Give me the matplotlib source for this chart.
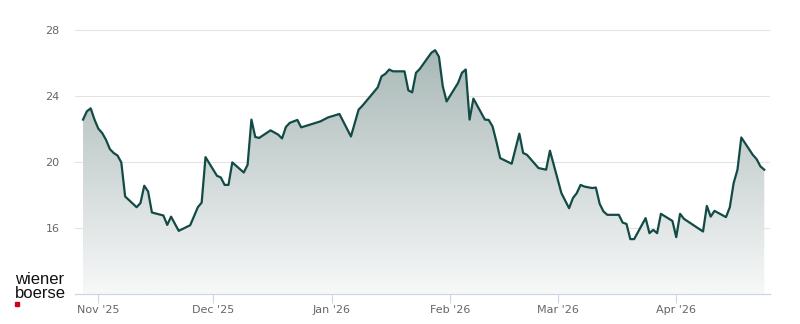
import matplotlib
matplotlib.use("Agg")
import matplotlib.pyplot as plt
import matplotlib.dates as mdates
import numpy as np
import pandas as pd
from matplotlib.colors import LinearSegmentedColormap

# price series (days counted from 1 Nov 2025)
START = pd.Timestamp("2025-11-01")
day_offsets = [
    -4, -3, -2, -1, 0, 1, 2, 3, 4, 5, 6, 7, 10, 11, 12, 13, 14, 17, 18, 19,
    21, 24, 26, 27, 28, 31, 32, 33, 34, 35, 38, 39, 40, 41, 42, 45, 47, 48, 49, 50,
    52, 53, 58, 60, 63, 66, 68, 69, 73, 74, 75, 76, 77, 80, 81, 82, 83, 84, 87, 88,
    89, 90, 91, 94, 95, 96, 97, 98, 101, 102, 103, 104, 105, 108, 110, 111, 112, 115, 117, 118,
    121, 123, 124, 125, 126, 127, 129, 130, 131, 132, 133, 136, 137, 138, 139, 140, 143, 144, 145, 146,
    147, 150, 151, 152, 153, 158, 159, 160, 161, 164, 165, 166, 167, 168, 171, 172, 173, 174,
]
prices = [
    22.55, 23.05, 23.23, 22.55, 22.00, 21.74, 21.33, 20.77, 20.53, 20.38, 19.96, 17.90, 17.25, 17.50, 18.55, 18.20, 16.93, 16.75, 16.18, 16.68,
    15.82, 16.16, 17.25, 17.53, 20.28, 19.15, 19.05, 18.60, 18.60, 19.96, 19.35, 19.82, 22.55, 21.50, 21.44, 21.90, 21.64, 21.41, 22.10, 22.35,
    22.53, 22.08, 22.44, 22.68, 22.89, 21.53, 23.15, 23.39, 24.50, 25.17, 25.32, 25.58, 25.47, 25.47, 24.32, 24.20, 25.38, 25.62, 26.59, 26.75,
    26.35, 24.56, 23.65, 24.77, 25.38, 25.58, 22.55, 23.82, 22.55, 22.53, 22.14, 21.23, 20.22, 19.88, 21.70, 20.53, 20.42, 19.62, 19.52, 20.67,
    18.10, 17.19, 17.80, 18.10, 18.60, 18.50, 18.41, 18.44, 17.45, 16.99, 16.79, 16.79, 16.32, 16.24, 15.32, 15.32, 16.59, 15.68, 15.88, 15.68,
    16.85, 16.42, 15.44, 16.85, 16.55, 15.78, 17.33, 16.68, 17.03, 16.65, 17.25, 18.71, 19.52, 21.47, 20.42, 20.16, 19.72, 19.52,
]
month_ticks = ["2025-11-01", "2025-12-01", "2026-01-01", "2026-02-01", "2026-03-01", "2026-04-01"]
month_labels = ["Nov '25", "Dec '25", "Jan '26", "Feb '26", "Mar '26", "Apr '26"]
y_ticks = [16, 20, 24, 28]

dates = START + pd.to_timedelta(day_offsets, unit="D")
x = mdates.date2num(dates.to_pydatetime())

fig = plt.figure(figsize=(8, 3.24), dpi=100)
ax = fig.add_axes([75 / 800, 30 / 324, 695 / 800, 267.8 / 324])

y_min, y_max = 12, 28.2
x_left = mdates.date2num(START - pd.Timedelta(days=6.1))
x_right = mdates.date2num(START + pd.Timedelta(days=175.5))

# gradient area under the line
poly = ax.fill_between(x, prices, y_min, facecolor="none", edgecolor="none")
cmap = LinearSegmentedColormap.from_list("fade", ["#f7f8f8", "#a2b3b1"])
grad = np.linspace(0, 1, 256).reshape(-1, 1)
img = ax.imshow(grad, cmap=cmap, origin="lower", aspect="auto",
                extent=[x_left, x_right, y_min, 28], zorder=1)
img.set_clip_path(poly.get_paths()[0], transform=ax.transData)

ax.plot(x, prices, color="#124b46", lw=1.6, zorder=3, solid_joinstyle="round")

ax.set_xlim(x_left, x_right)
ax.set_ylim(y_min, y_max)

ax.set_yticks(y_ticks)
ax.set_yticklabels([str(t) for t in y_ticks])
ax.grid(axis="y", color="#e3e3e3", lw=0.8, zorder=0)
ax.set_axisbelow(True)
ax.tick_params(axis="y", length=0, pad=11, labelsize=8, labelcolor="#666666")

ax.set_xticks(mdates.date2num(pd.to_datetime(month_ticks).to_pydatetime()))
ax.set_xticklabels(month_labels)
ax.tick_params(axis="x", length=6.5, width=0.8, color="#ccd6eb", pad=1.5,
               labelsize=8, labelcolor="#666666")

for side in ["top", "right", "left"]:
    ax.spines[side].set_visible(False)
ax.spines["bottom"].set_color("#ccd6eb")
ax.spines["bottom"].set_linewidth(0.9)

# logo
fig.text(15 / 800, 1 - 300.5 / 324, "wiener\nboerse", fontsize=12, family="Liberation Sans",
         color="#111111", va="bottom", ha="left", linespacing=0.9)
fig.patches.append(plt.Rectangle((15 / 800, 1 - 306 / 324), 4.3 / 800, 4 / 324,
                                 transform=fig.transFigure, color="#d0021b", figure=fig))

fig.savefig("out.png", dpi=100)
